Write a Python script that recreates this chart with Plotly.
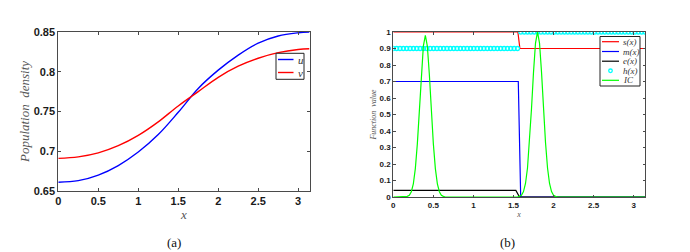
import math
import numpy as np
import plotly.graph_objects as go

# The page body has an 8 px default margin: the figure starts 8 px in, so it is sized to end at the window edge.
PAGE_W, PAGE_H, BODY_MARGIN = 690, 252, 8
W, H = PAGE_W - BODY_MARGIN, PAGE_H - BODY_MARGIN

# ---------------- Panel (a) data ----------------
xa = [0, 0.25, 0.5, 0.75, 1.0, 1.25, 1.5, 1.75, 2.0, 2.25, 2.5, 2.75, 3.0, math.pi]
u_vals = [0.661, 0.663, 0.670, 0.682, 0.699, 0.721, 0.749, 0.779, 0.802, 0.821, 0.836, 0.845, 0.849, 0.850]
v_vals = [0.691, 0.693, 0.698, 0.707, 0.720, 0.737, 0.757, 0.775, 0.793, 0.807, 0.817, 0.824, 0.828, 0.829]

xa_ticks = [0, 0.5, 1, 1.5, 2, 2.5, 3]
xa_ticktext = ["0", "0.5", "1", "1.5", "2", "2.5", "3"]
ya_ticks = [0.65, 0.7, 0.75, 0.8, 0.85]
ya_ticktext = ["0.65", "0.7", "0.75", "0.8", "0.85"]

# ---------------- Panel (b) data ----------------
s_x = [0, 1.555, 1.58, math.pi]
s_y = [1.0, 1.0, 0.9, 0.9]
m_x = [0, 1.56, 1.59, math.pi]
m_y = [0.7, 0.7, 0.0, 0.0]
e_x = [0, 1.53, 1.575, math.pi]
e_y = [0.04, 0.04, 0.0, 0.0]

h_n_points = 76
h_left, h_right, h_break = 0.9, 1.0, 1.57

ic_x = ([0.0]
        + [0.15, 0.175, 0.2, 0.225, 0.25, 0.275, 0.3, 0.325, 0.35, 0.375, 0.4,
           0.425, 0.45, 0.475, 0.5, 0.525, 0.55, 0.575, 0.6, 0.625, 0.65]
        + [1.55, 1.575, 1.6, 1.625, 1.65, 1.675, 1.7, 1.725, 1.75, 1.775, 1.8,
           1.825, 1.85, 1.875, 1.9, 1.925, 1.95, 1.975, 2.0, 2.025, 2.05]
        + [math.pi])
ic_y = ([0.0]
        + [0.0, 0.004, 0.011, 0.032, 0.080, 0.172, 0.322, 0.524, 0.742, 0.914, 0.98,
           0.914, 0.742, 0.524, 0.322, 0.172, 0.080, 0.032, 0.011, 0.004, 0.0]
        + [0.0, 0.004, 0.011, 0.033, 0.082, 0.176, 0.329, 0.535, 0.757, 0.933, 1.0,
           0.933, 0.757, 0.535, 0.329, 0.176, 0.082, 0.033, 0.011, 0.004, 0.0]
        + [0.0])

xb_ticks = [0, 0.5, 1, 1.5, 2, 2.5, 3]
xb_ticktext = ["0", "0.5", "1", "1.5", "2", "2.5", "3"]
yb_ticks = [0, 0.1, 0.2, 0.3, 0.4, 0.5, 0.6, 0.7, 0.8, 0.9, 1.0]
yb_ticktext = ["0", "0.1", "0.2", "0.3", "0.4", "0.5", "0.6", "0.7", "0.8", "0.9", "1"]

BLUE, RED, GREEN, CYAN, BLACK = "#0000ff", "#ff0000", "#00ff00", "#00ffff", "#000000"
AXC = "#4a4a4a"
TXT = "#1a1a1a"
SERIF = "Liberation Serif, Times New Roman, DejaVu Serif, serif"
SANS = "Liberation Sans, Arial, sans-serif"

h_x = np.linspace(0, math.pi, h_n_points)
h_y = np.where(h_x < h_break, h_left, h_right)

fig = go.Figure()

# Panel (a)
fig.add_trace(go.Scatter(x=xa, y=u_vals, mode="lines", line=dict(color=BLUE, width=1.4, shape="spline"),
                         name="u", showlegend=False, xaxis="x", yaxis="y"))
fig.add_trace(go.Scatter(x=xa, y=v_vals, mode="lines", line=dict(color=RED, width=1.4, shape="spline"),
                         name="v", showlegend=False, xaxis="x", yaxis="y"))

# Panel (b)
fig.add_trace(go.Scatter(x=s_x, y=s_y, mode="lines", line=dict(color=RED, width=1.2),
                         name="s(x)", showlegend=False, xaxis="x2", yaxis="y2"))
fig.add_trace(go.Scatter(x=m_x, y=m_y, mode="lines", line=dict(color=BLUE, width=1.2),
                         name="m(x)", showlegend=False, xaxis="x2", yaxis="y2"))
fig.add_trace(go.Scatter(x=e_x, y=e_y, mode="lines", line=dict(color=BLACK, width=1.2),
                         name="e(x)", showlegend=False, xaxis="x2", yaxis="y2"))
fig.add_trace(go.Scatter(x=h_x, y=h_y, mode="markers",
                         marker=dict(symbol="circle-open", size=4, color=CYAN, line=dict(width=1.3, color=CYAN)),
                         name="h(x)", showlegend=False, xaxis="x2", yaxis="y2"))
fig.add_trace(go.Scatter(x=ic_x, y=ic_y, mode="lines", line=dict(color=GREEN, width=1.2),
                         name="IC", showlegend=False, xaxis="x2", yaxis="y2"))


def px(x):
    """page x pixel -> paper fraction"""
    return (x - BODY_MARGIN) / W


def py(y):
    """page y pixel -> paper fraction"""
    return 1 - (y - BODY_MARGIN) / H


axis_common = dict(showline=True, linecolor=AXC, linewidth=1, mirror="ticks", ticks="inside",
                   tickcolor=AXC, showgrid=False, zeroline=False, tickmode="array", automargin=False)

fig.update_layout(
    width=W, height=H, margin=dict(l=0, r=0, t=0, b=0, autoexpand=False),
    paper_bgcolor="white", plot_bgcolor="white", showlegend=False,
    xaxis=dict(domain=[px(58.3), px(309.5)], range=[0, math.pi], anchor="y",
               tickvals=xa_ticks, ticktext=xa_ticktext, ticklen=3,
               tickfont=dict(family=SANS, size=11, color=TXT, weight="bold"),
               title=dict(text="x", font=dict(family=SERIF, size=13, color="#555", style="italic"),
                          standoff=1),
               **axis_common),
    yaxis=dict(domain=[py(191), py(32)], range=[0.65, 0.85], anchor="x",
               tickvals=ya_ticks, ticktext=ya_ticktext, ticklen=3,
               tickfont=dict(family=SANS, size=11, color=TXT, weight="bold"),
               title=dict(text="Population\u00a0\u00a0density",
                          font=dict(family=SERIF, size=13, color="#555", style="italic"),
                          standoff=1),
               **axis_common),
    xaxis2=dict(domain=[px(393.3), px(645)], range=[0, math.pi], anchor="y2",
                tickvals=xb_ticks, ticktext=xb_ticktext, ticklen=2.5,
                tickfont=dict(family=SANS, size=8, color=TXT, weight="bold"),
                title=dict(text="x", font=dict(family=SERIF, size=8, color="#555", style="italic"),
                           standoff=0),
                **axis_common),
    yaxis2=dict(domain=[py(197), py(32)], range=[0, 1], anchor="x2",
                tickvals=yb_ticks, ticktext=yb_ticktext, ticklen=2.5,
                tickfont=dict(family=SANS, size=8, color=TXT, weight="bold"),
                title=dict(text="Function\u00a0\u00a0value",
                           font=dict(family=SERIF, size=8, color="#555", style="italic"),
                           standoff=1),
                **axis_common),
)

shapes = []
annotations = []

# Legend (a)
shapes.append(dict(type="rect", xref="paper", yref="paper", x0=px(276), x1=px(304), y0=py(79.3), y1=py(53.3),
                   line=dict(color="#222", width=1), fillcolor="white", layer="above"))
for name, col, yy in [("u", BLUE, 59.5), ("v", RED, 72.5)]:
    shapes.append(dict(type="line", xref="paper", yref="paper", x0=px(278), x1=px(293.5), y0=py(yy), y1=py(yy),
                       line=dict(color=col, width=1.4), layer="above"))
    annotations.append(dict(text=name, xref="paper", yref="paper", x=px(296), y=py(yy), xanchor="left",
                            yanchor="middle", showarrow=False,
                            font=dict(family=SERIF, size=11, color="#333", style="italic")))

# Legend (b)
shapes.append(dict(type="rect", xref="paper", yref="paper", x0=px(600), x1=px(640), y0=py(86), y1=py(36.5),
                   line=dict(color="#222", width=1), fillcolor="white", layer="above"))
leg_b = [("s(x)", RED, 41.7, "line"), ("m(x)", BLUE, 51.5, "line"), ("e(x)", BLACK, 61.2, "line"),
         ("h(x)", CYAN, 70.8, "marker"), ("IC", GREEN, 80.3, "line")]
for name, col, yy, kind in leg_b:
    if kind == "line":
        shapes.append(dict(type="line", xref="paper", yref="paper", x0=px(602), x1=px(619), y0=py(yy), y1=py(yy),
                           line=dict(color=col, width=1.2), layer="above"))
    else:
        shapes.append(dict(type="circle", xref="paper", yref="paper", x0=px(608.7), x1=px(612.3),
                           y0=py(yy + 1.8), y1=py(yy - 1.8), line=dict(color=col, width=1.3), layer="above"))
    annotations.append(dict(text=name, xref="paper", yref="paper", x=px(620.5), y=py(yy), xanchor="left",
                            yanchor="middle", showarrow=False,
                            font=dict(family=SERIF, size=9, color="#333", style="italic")))

# Captions
annotations.append(dict(text="(a)", xref="paper", yref="paper", x=px(173.5), y=py(242), xanchor="center",
                        yanchor="middle", showarrow=False,
                        font=dict(family=SERIF, size=13, color="#111")))
annotations.append(dict(text="(b)", xref="paper", yref="paper", x=px(507), y=py(242), xanchor="center",
                        yanchor="middle", showarrow=False,
                        font=dict(family=SERIF, size=13, color="#111")))

fig.update_layout(shapes=shapes, annotations=annotations)

fig.write_html("out.html")
